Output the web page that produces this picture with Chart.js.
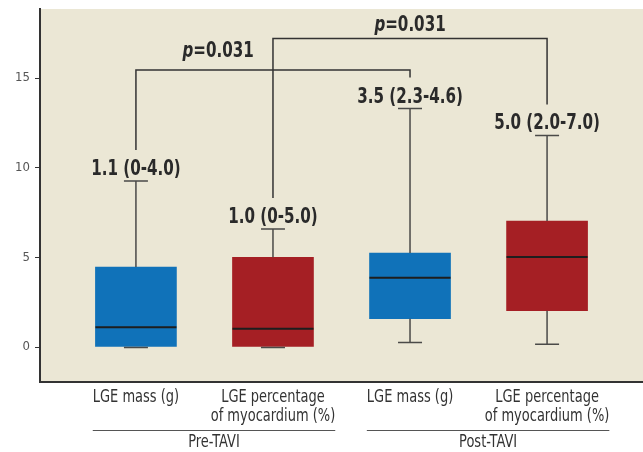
<!DOCTYPE html>
<html lang="en">
<head>
    <meta charset="UTF-8">
    <title>LGE pre/post TAVI</title>
    <script src="https://cdn.jsdelivr.net/npm/chart.js"></script>
    <style>
        body { margin: 0; background: #fff; }
        .wrap { width: 643px; height: 452px; position: relative; }
    </style>
</head>
<body>
    <div class="wrap"><canvas id="chart"></canvas></div>
    <script>
        // data
        const categories = [['LGE mass (g)'], ['LGE percentage', 'of myocardium (%)'], ['LGE mass (g)'], ['LGE percentage', 'of myocardium (%)']];
        const groups = ['Pre-TAVI', 'Post-TAVI'];
        const whiskerLow = [0, 0, 0.28, 0.18];
        const q1 = [0, 0, 1.58, 2.03];
        const median = [1.1, 1.02, 3.87, 5.02];
        const q3 = [4.46, 5.0, 5.24, 7.03];
        const whiskerHigh = [9.26, 6.58, 13.3, 11.8];
        const summaryLabels = ['1.1 (0-4.0)', '1.0 (0-5.0)', '3.5 (2.3-4.6)', '5.0 (2.0-7.0)'];
        const yTicks = [0, 5, 10, 15];
        const comparisons = [[0, 2], [1, 3]];
        const pValues = ['0.031', '0.031'];

        const boxColors = ['#1072b9', '#a51f24', '#1072b9', '#a51f24'];
        const FONT = "'Liberation Sans Narrow', 'DejaVu Sans Condensed', sans-serif";
        const SQUEEZE = 0.8; // no narrow font installed, so squeeze text a bit

        // bracket layout (value units)
        const bracketLevel = [15.45, 17.2];
        const pLabelAt = [{ x: 1.6, y: 16.17 }, { x: 3.0, y: 17.62 }];

        function squeezedText(ctx, text, x, y, align, sx) {
            ctx.save();
            ctx.translate(x, y);
            ctx.scale(sx, 1);
            ctx.textAlign = align;
            ctx.fillText(text, 0, 0);
            ctx.restore();
        }

        const boxPlugin = {
            id: 'boxPlugin',
            beforeDraw(chart) {
                const { ctx, chartArea: a } = chart;
                ctx.save();
                ctx.fillStyle = '#ebe7d5';
                ctx.fillRect(a.left, a.top, a.right - a.left, a.bottom - a.top);
                ctx.restore();
            },
            afterDatasetsDraw(chart) {
                const { ctx } = chart;
                const xs = chart.scales.x, ys = chart.scales.y;
                const meta = chart.getDatasetMeta(0);
                const capW = 24;
                ctx.save();
                categories.forEach((c, i) => {
                    const x = xs.getPixelForValue(i + 1);
                    const w = meta.data[i].width;
                    ctx.strokeStyle = '#4a4a48';
                    ctx.lineWidth = 1.5;
                    ctx.beginPath();
                    ctx.moveTo(x, ys.getPixelForValue(q3[i]));
                    ctx.lineTo(x, ys.getPixelForValue(whiskerHigh[i]));
                    ctx.moveTo(x, ys.getPixelForValue(q1[i]));
                    ctx.lineTo(x, ys.getPixelForValue(whiskerLow[i]));
                    ctx.moveTo(x - capW / 2, ys.getPixelForValue(whiskerHigh[i]));
                    ctx.lineTo(x + capW / 2, ys.getPixelForValue(whiskerHigh[i]));
                    ctx.moveTo(x - capW / 2, ys.getPixelForValue(whiskerLow[i]) + 0.5);
                    ctx.lineTo(x + capW / 2, ys.getPixelForValue(whiskerLow[i]) + 0.5);
                    ctx.stroke();
                    // median
                    ctx.strokeStyle = '#1e1e1e';
                    ctx.lineWidth = 2;
                    ctx.beginPath();
                    ctx.moveTo(x - w / 2, ys.getPixelForValue(median[i]));
                    ctx.lineTo(x + w / 2, ys.getPixelForValue(median[i]));
                    ctx.stroke();
                    // summary text
                    ctx.fillStyle = '#2a2a2a';
                    ctx.font = 'bold 21px ' + FONT;
                    ctx.textBaseline = 'alphabetic';
                    squeezedText(ctx, summaryLabels[i], x, ys.getPixelForValue(whiskerHigh[i]) - 6, 'center', SQUEEZE);
                });

                // brackets
                comparisons.forEach((pair, k) => {
                    const yb = ys.getPixelForValue(bracketLevel[k]);
                    ctx.strokeStyle = '#333';
                    ctx.lineWidth = 1.5;
                    ctx.beginPath();
                    pair.forEach((idx, j) => {
                        const x = xs.getPixelForValue(idx + 1);
                        const end = ys.getPixelForValue(whiskerHigh[idx]) - 31;
                        if (j === 0) { ctx.moveTo(x, end); ctx.lineTo(x, yb); }
                        else { ctx.lineTo(x, yb); ctx.lineTo(x, end); }
                    });
                    ctx.stroke();
                    const px = xs.getPixelForValue(pLabelAt[k].x);
                    const py = ys.getPixelForValue(pLabelAt[k].y);
                    ctx.font = 'italic bold 21px ' + FONT;
                    const pw = ctx.measureText('p').width * SQUEEZE;
                    ctx.font = 'bold 21px ' + FONT;
                    const rest = '=' + pValues[k];
                    const rw = ctx.measureText(rest).width * SQUEEZE;
                    const x0 = px - (pw + rw) / 2;
                    ctx.fillStyle = '#2a2a2a';
                    ctx.font = 'italic bold 21px ' + FONT;
                    squeezedText(ctx, 'p', x0, py, 'left', SQUEEZE);
                    ctx.font = 'bold 21px ' + FONT;
                    squeezedText(ctx, rest, x0 + pw, py, 'left', SQUEEZE);
                });

                // category labels, group lines and group labels under the axis
                const lblSx = 0.85;
                ctx.font = '17px ' + FONT;
                ctx.fillStyle = '#333';
                ctx.textBaseline = 'middle';
                categories.forEach((lines, i) => {
                    const x = xs.getPixelForValue(i + 1);
                    lines.forEach((s, l) => squeezedText(ctx, s, x, 398 + l * 19, 'center', lblSx));
                });
                groups.forEach((g, k) => {
                    const a = k * 2, b = k * 2 + 1;
                    const wa = Math.max(...categories[a].map(s => ctx.measureText(s).width)) * lblSx;
                    const wb = Math.max(...categories[b].map(s => ctx.measureText(s).width)) * lblSx;
                    const left = xs.getPixelForValue(a + 1) - wa / 2;
                    const right = xs.getPixelForValue(b + 1) + wb / 2;
                    ctx.strokeStyle = '#555';
                    ctx.lineWidth = 1;
                    ctx.beginPath();
                    ctx.moveTo(left, 430.5);
                    ctx.lineTo(right, 430.5);
                    ctx.stroke();
                    squeezedText(ctx, g, (left + right) / 2, 443, 'center', lblSx);
                });
                ctx.restore();
            }
        };

        new Chart(document.getElementById('chart'), {
            type: 'bar',
            data: {
                datasets: [{
                    data: categories.map((c, i) => ({ x: i + 1, y: [q1[i], q3[i]] })),
                    backgroundColor: boxColors,
                    borderWidth: 0,
                    barThickness: 81
                }]
            },
            options: {
                responsive: true,
                maintainAspectRatio: false,
                animation: false,
                layout: { padding: { top: 9, right: 0, left: 0, bottom: 0 } },
                plugins: { legend: { display: false }, tooltip: { enabled: false } },
                scales: {
                    x: {
                        type: 'linear',
                        offset: false,
                        min: 0.3,
                        max: 4.7,
                        afterBuildTicks: s => { s.ticks = categories.map((c, i) => ({ value: i + 1 })); },
                        afterFit: s => { s.height = 70; s.paddingLeft = 0; s.paddingRight = 0; },
                        ticks: { display: false },
                        grid: { display: false },
                        border: { display: true, color: '#333', width: 2 }
                    },
                    y: {
                        min: -1.95,
                        max: 18.85,
                        afterBuildTicks: s => { s.ticks = yTicks.map(v => ({ value: v })); },
                        afterFit: s => { s.width = 40; s.paddingTop = 0; s.paddingBottom = 0; },
                        ticks: {
                            color: '#555',
                            font: { family: FONT, size: 13 },
                            padding: 5
                        },
                        grid: { drawOnChartArea: false, drawTicks: true, tickLength: 5, color: '#333' },
                        border: { display: true, color: '#333', width: 2 }
                    }
                }
            },
            plugins: [boxPlugin]
        });
    </script>
</body>
</html>
